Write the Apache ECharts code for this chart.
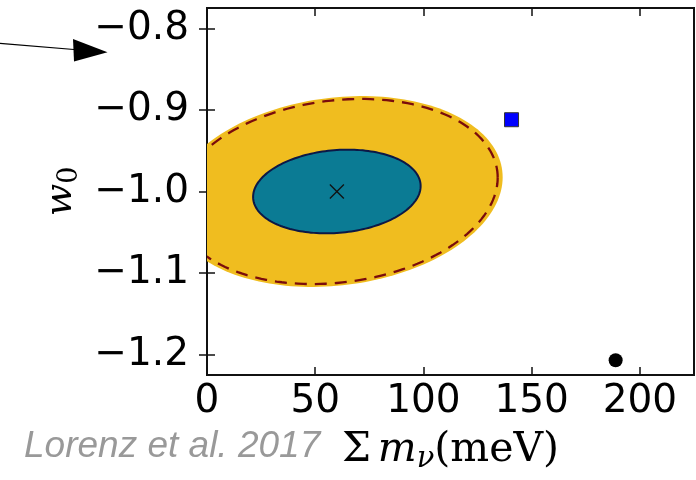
<!DOCTYPE html>
<html><head><meta charset="utf-8">
<script src="https://cdn.jsdelivr.net/npm/echarts@6/dist/echarts.min.js"></script>
<style>html,body{margin:0;padding:0;background:#fff}#c{width:696px;height:480px}</style>
</head><body><div id="c"></div>
<script>
// ---- data ----
const xTickValues = [0, 50, 100, 150, 200];
const yTickValues = [-1.2, -1.1, -1.0, -0.9, -0.8];
const xRange = [0, 225];
const yRange = [-1.225, -0.775];
const contourNames = ['1σ', '2σ'];
const contourCenterX = [60, 60];
const contourCenterY = [-1.0, -1.0];
const contourHalfX = [38.7, 76.6];
const contourHalfY = [0.0513, 0.117];
const contourTilt = [0.13, 0.15];
const fiducialPoint = [[60, -1.0]];
const squarePoint = [[140.7, -0.912]];
const circlePoint = [[188.8, -1.207]];
const creditText = 'Lorenz et al. 2017';

// ---- styles ----
const C_YELLOW = '#f0bd1f';
const C_TEAL = '#0b7b94';
const C_NAVY = '#0c1846';
const C_MAROON = '#7a0c0c';
const TICK_FONT = '"DejaVu Sans", sans-serif';
const SERIF = '"DejaVu Serif", serif';

function ellipse(api, k, scale) {
  const pts = [];
  const N = 180;
  const r = contourTilt[k];
  const s = Math.sqrt(1 - r * r);
  for (let i = 0; i <= N; i++) {
    const t = 2 * Math.PI * i / N;
    const x = contourCenterX[k] + scale * contourHalfX[k] * Math.cos(t);
    const y = contourCenterY[k] + scale * contourHalfY[k] * (r * Math.cos(t) + s * Math.sin(t));
    pts.push(api.coord([x, y]));
  }
  return pts;
}

const chart = echarts.init(document.getElementById('c'), null, {renderer: 'canvas'});
const yFmt = v => (v < 0 ? '\u2212' : '') + Math.abs(v).toFixed(1);

const axisCommon = {
  axisLine: {show: false},
  splitLine: {show: false},
  axisTick: {show: true, inside: true, length: 8, lineStyle: {color: '#111', width: 1.5}},
};

// draw the outer (2σ) contour first, the inner (1σ) on top
const drawOrder = contourNames.map((n, i) => i).reverse();

chart.setOption({
  animation: false,
  backgroundColor: '#fff',
  grid: {left: 207, right: 2, top: 8, bottom: 105, show: true, borderColor: '#111', borderWidth: 2, backgroundColor: 'transparent', containLabel: false},
  xAxis: [
    Object.assign({}, axisCommon, {
      type: 'value', position: 'bottom', min: xRange[0], max: xRange[1],
      axisTick: Object.assign({}, axisCommon.axisTick, {customValues: xTickValues}),
      axisLabel: {customValues: xTickValues, margin: 7, color: '#000', fontSize: 39, fontFamily: TICK_FONT},
      name: '{s|Σ}{sp| }{m|m}{sub|ν}{s|(meV)}',
      nameLocation: 'middle', nameGap: 55,
      nameTextStyle: {
        rich: {
          s: {fontFamily: SERIF, fontSize: 41, color: '#000', lineHeight: 46, verticalAlign: 'top'},
          sp: {fontFamily: SERIF, fontSize: 22, color: '#000', lineHeight: 46, verticalAlign: 'top'},
          m: {fontFamily: SERIF, fontStyle: 'italic', fontSize: 41, color: '#000', lineHeight: 46, verticalAlign: 'top'},
          sub: {fontFamily: SERIF, fontStyle: 'italic', fontSize: 29, color: '#000', lineHeight: 46, verticalAlign: 'top', padding: [15, 0, 0, 0]}
        }
      }
    }),
    Object.assign({}, axisCommon, {
      type: 'value', position: 'top', min: xRange[0], max: xRange[1],
      axisTick: Object.assign({}, axisCommon.axisTick, {customValues: xTickValues}),
      axisLabel: {show: false}
    })
  ],
  yAxis: [
    Object.assign({}, axisCommon, {
      type: 'value', position: 'left', min: yRange[0], max: yRange[1],
      axisTick: Object.assign({}, axisCommon.axisTick, {customValues: yTickValues}),
      axisLabel: {customValues: yTickValues, formatter: yFmt, margin: 18, color: '#000', fontSize: 39, fontFamily: TICK_FONT},
      name: '{w|w}{sub|0}',
      nameLocation: 'middle', nameRotate: 90, nameGap: 116,
      nameTextStyle: {
        rich: {
          w: {fontFamily: SERIF, fontStyle: 'italic', fontSize: 38, color: '#000', lineHeight: 44, verticalAlign: 'top'},
          sub: {fontFamily: SERIF, fontSize: 27, color: '#000', lineHeight: 44, verticalAlign: 'top', padding: [14, 0, 0, 0]}
        }
      }
    }),
    Object.assign({}, axisCommon, {
      type: 'value', position: 'right', min: yRange[0], max: yRange[1],
      axisTick: Object.assign({}, axisCommon.axisTick, {customValues: yTickValues}),
      axisLabel: {show: false}
    })
  ],
  series: [
    {
      type: 'custom', name: 'contours', clip: true, z: 2,
      data: drawOrder.map(i => [contourCenterX[i], contourCenterY[i], i]),
      renderItem: function (params, api) {
        const k = api.value(2);
        if (k === 1) {
          return {
            type: 'group',
            children: [
              {type: 'polygon', shape: {points: ellipse(api, 1, 1.0)}, style: {fill: C_YELLOW, stroke: null}},
              {type: 'polyline', shape: {points: ellipse(api, 1, 0.97)}, style: {fill: null, stroke: C_MAROON, lineWidth: 2.3, lineDash: [12, 8]}}
            ]
          };
        }
        return {type: 'polygon', shape: {points: ellipse(api, 0, 1.0)}, style: {fill: C_TEAL, stroke: C_NAVY, lineWidth: 2}};
      }
    },
    {
      type: 'custom', name: 'fiducial', z: 3,
      data: fiducialPoint,
      renderItem: function (params, api) {
        const p = api.coord([api.value(0), api.value(1)]);
        const h = 7;
        return {
          type: 'group',
          children: [
            {type: 'line', shape: {x1: p[0] - h, y1: p[1] - h, x2: p[0] + h, y2: p[1] + h}, style: {stroke: '#111', lineWidth: 1.3}},
            {type: 'line', shape: {x1: p[0] - h, y1: p[1] + h, x2: p[0] + h, y2: p[1] - h}, style: {stroke: '#111', lineWidth: 1.3}}
          ]
        };
      }
    },
    {
      type: 'scatter', name: 'square', data: squarePoint, symbol: 'rect', symbolSize: 14, z: 4,
      itemStyle: {color: '#0000ff', borderColor: '#333', borderWidth: 1, opacity: 1}
    },
    {
      type: 'scatter', name: 'circle', data: circlePoint, symbol: 'circle', symbolSize: 14, z: 4,
      itemStyle: {color: '#000', opacity: 1}
    }
  ],
  graphic: [
    {type: 'line', shape: {x1: 0, y1: 43.3, x2: 80, y2: 50}, style: {stroke: '#000', lineWidth: 1.2}, z: 10},
    {type: 'polygon', shape: {points: [[73, 39], [107.5, 52.3], [74, 61.5]]}, style: {fill: '#000'}, z: 10},
    {type: 'text', left: 24, top: 428, style: {text: creditText, fill: '#999', font: 'italic 37px "Liberation Sans", Arial, sans-serif'}, z: 10}
  ]
});
</script></body></html>
